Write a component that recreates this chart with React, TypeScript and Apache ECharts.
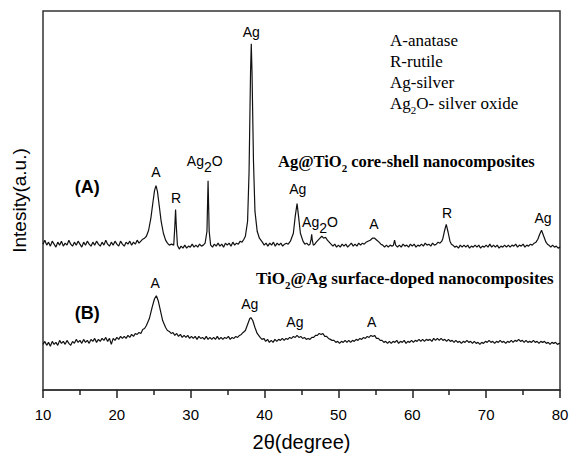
import React, { useEffect, useRef } from "react";
import * as echarts from "echarts";

// 2θ (degree), intensity (arbitrary units) — pattern (A), Ag@TiO2 core-shell
const curveA: [number, number][] = [
  [10, 147], [10.25, 151], [10.5, 146], [10.75, 149], [11, 145], [11.25, 150], [11.5, 147], [11.75, 144], [12, 149], [12.25, 146],
  [12.5, 150], [12.75, 145], [13, 148], [13.25, 146], [13.5, 151], [13.75, 147], [14, 145], [14.25, 149], [14.5, 146], [14.75, 150],
  [15, 147], [15.25, 144], [15.5, 149], [15.75, 146], [16, 150], [16.25, 147], [16.5, 145], [16.75, 149], [17, 146], [17.25, 150],
  [17.5, 147], [17.75, 145], [18, 149], [18.25, 146], [18.5, 151], [18.75, 147], [19, 145], [19.25, 149], [19.5, 146], [19.75, 150],
  [20, 147], [20.25, 145], [20.5, 150], [20.75, 147], [21, 145], [21.25, 149], [21.5, 147], [21.75, 150], [22, 146], [22.25, 149],
  [22.5, 147], [22.75, 151], [23, 148], [23.25, 150], [23.5, 152], [23.75, 153], [24, 155], [24.3, 161], [24.6, 173], [24.9, 190],
  [25.1, 201], [25.3, 206], [25.5, 200], [25.7, 188], [26.0, 170], [26.3, 158], [26.6, 151], [26.85, 148], [27.1, 146], [27.4, 147],
  [27.7, 146], [27.85, 165], [27.95, 182], [28.05, 165], [28.2, 146], [28.45, 142], [28.7, 145], [28.95, 143], [29.2, 146], [29.45, 143],
  [29.7, 145], [29.95, 144], [30.2, 147], [30.45, 144], [30.7, 146], [30.95, 144], [31.2, 147], [31.45, 145], [31.7, 146], [31.95, 148],
  [32.2, 160], [32.35, 211], [32.5, 160], [32.7, 146], [32.95, 144], [33.2, 147], [33.45, 145], [33.7, 148], [33.95, 145], [34.2, 147],
  [34.45, 144], [34.7, 148], [34.95, 146], [35.2, 148], [35.45, 145], [35.7, 149], [35.95, 146], [36.2, 148], [36.45, 147], [36.7, 150],
  [36.95, 149], [37.2, 152], [37.4, 155], [37.7, 170], [37.9, 220], [38.1, 320], [38.2, 349], [38.3, 320], [38.5, 230], [38.7, 180],
  [39, 160], [39.3, 153], [39.7, 149], [39.95, 146], [40.2, 148], [40.45, 145], [40.7, 148], [40.95, 146], [41.2, 149], [41.45, 145],
  [41.7, 148], [41.95, 146], [42.2, 148], [42.45, 145], [42.7, 147], [42.95, 148], [43.2, 147], [43.5, 150], [43.9, 158], [44.15, 175],
  [44.4, 188], [44.6, 175], [44.85, 158], [45.2, 150], [45.45, 147], [45.7, 148], [45.95, 146], [46.15, 147], [46.3, 152], [46.38, 157],
  [46.46, 151], [46.6, 146], [46.8, 147], [47.0, 149], [47.25, 151], [47.5, 153], [47.75, 155], [48.0, 153], [48.25, 154], [48.5, 151],
  [48.75, 149], [49, 147], [49.25, 145], [49.5, 147], [49.75, 144], [50, 146], [50.25, 144], [50.5, 147], [50.75, 145], [51, 147],
  [51.25, 144], [51.5, 146], [51.75, 148], [52, 145], [52.25, 147], [52.5, 145], [52.75, 148], [53, 146], [53.25, 148], [53.5, 147],
  [53.75, 149], [54, 150], [54.3, 151], [54.6, 153], [54.9, 153], [55.2, 151], [55.5, 149], [55.75, 147], [56, 146], [56.25, 144],
  [56.5, 146], [56.75, 144], [57, 146], [57.25, 145], [57.45, 146], [57.6, 151], [57.75, 146], [58, 144], [58.25, 146], [58.5, 144],
  [58.75, 147], [59, 145], [59.25, 146], [59.5, 144], [59.75, 147], [60, 145], [60.25, 147], [60.5, 144], [60.75, 146], [61, 145],
  [61.25, 147], [61.5, 145], [61.75, 148], [62, 146], [62.25, 147], [62.5, 145], [62.75, 148], [63, 146], [63.25, 147], [63.5, 149],
  [63.75, 148], [64, 150], [64.15, 153], [64.35, 160], [64.6, 167], [64.85, 159], [65.1, 150], [65.3, 147], [65.5, 146], [65.75, 144],
  [66, 145], [66.25, 143], [66.5, 146], [66.75, 144], [67, 146], [67.25, 144], [67.5, 146], [67.75, 143], [68, 145], [68.25, 144],
  [68.5, 146], [68.75, 144], [69, 146], [69.25, 143], [69.5, 145], [69.75, 144], [70, 146], [70.25, 144], [70.5, 147], [70.75, 144],
  [71, 146], [71.25, 144], [71.5, 146], [71.75, 143], [72, 145], [72.25, 144], [72.5, 146], [72.75, 144], [73, 146], [73.25, 144],
  [73.5, 146], [73.75, 145], [74, 147], [74.25, 144], [74.5, 146], [74.75, 145], [75, 147], [75.25, 144], [75.5, 146], [75.75, 145],
  [76, 147], [76.25, 146], [76.5, 148], [76.75, 149], [77, 152], [77.25, 157], [77.5, 161], [77.8, 155], [78.1, 149], [78.3, 147],
  [78.5, 146], [78.75, 144], [79, 146], [79.25, 144], [79.5, 145], [79.75, 143], [80, 144],
];

// pattern (B), TiO2@Ag surface-doped
const curveB: [number, number][] = [
  [10, 46], [10.25, 49], [10.5, 45], [10.75, 48], [11, 44], [11.25, 49], [11.5, 46], [11.75, 48], [12, 45], [12.25, 50],
  [12.5, 47], [12.75, 49], [13, 46], [13.25, 50], [13.5, 47], [13.75, 45], [14, 49], [14.25, 47], [14.5, 51], [14.75, 48],
  [15, 50], [15.25, 47], [15.5, 51], [15.75, 48], [16, 50], [16.25, 47], [16.5, 51], [16.75, 49], [17, 52], [17.25, 48],
  [17.5, 51], [17.75, 49], [18, 52], [18.25, 50], [18.5, 53], [18.75, 49], [19, 52], [19.25, 46], [19.5, 52], [19.75, 50],
  [20, 53], [20.25, 51], [20.5, 54], [20.75, 52], [21, 54], [21.25, 52], [21.5, 55], [21.75, 53], [22, 56], [22.25, 54],
  [22.5, 57], [22.75, 56], [23, 58], [23.25, 57], [23.5, 61], [23.75, 62], [24, 65], [24.4, 72], [24.8, 84], [25.1, 92],
  [25.35, 95], [25.6, 90], [25.9, 80], [26.2, 70], [26.6, 63], [26.85, 60], [27.1, 59], [27.35, 57], [27.6, 58], [27.85, 55],
  [28.1, 57], [28.35, 54], [28.6, 56], [28.85, 53], [29.1, 55], [29.35, 53], [29.6, 55], [29.85, 52], [30.1, 54], [30.35, 52],
  [30.6, 54], [30.85, 51], [31.1, 54], [31.35, 52], [31.6, 53], [31.85, 51], [32.1, 54], [32.35, 51], [32.6, 53], [32.85, 51],
  [33.1, 53], [33.35, 51], [33.6, 54], [33.85, 51], [34.1, 53], [34.35, 51], [34.6, 53], [34.85, 52], [35.1, 54], [35.35, 51],
  [35.6, 53], [35.85, 52], [36.1, 54], [36.35, 53], [36.6, 55], [36.85, 56], [37.1, 58], [37.4, 60], [37.7, 66], [38.0, 72],
  [38.15, 73], [38.4, 70], [38.7, 63], [39, 57], [39.4, 53], [39.65, 51], [39.9, 52], [40.15, 49], [40.4, 51], [40.65, 48],
  [40.9, 50], [41.15, 48], [41.4, 51], [41.65, 49], [41.9, 51], [42.15, 50], [42.4, 52], [42.65, 50], [42.9, 52], [43.15, 51],
  [43.4, 53], [43.65, 52], [43.9, 54], [44.15, 53], [44.4, 55], [44.65, 53], [44.9, 54], [45.15, 52], [45.4, 53], [45.65, 51],
  [45.9, 52], [46.15, 51], [46.4, 53], [46.65, 53], [46.9, 55], [47.15, 55], [47.4, 57], [47.65, 56], [47.9, 57], [48.15, 54],
  [48.4, 54], [48.65, 52], [48.9, 51], [49.15, 50], [49.4, 50], [49.65, 48], [49.9, 49], [50.15, 47], [50.4, 49], [50.65, 48],
  [50.9, 50], [51.15, 48], [51.4, 50], [51.65, 48], [51.9, 50], [52.15, 49], [52.4, 51], [52.65, 50], [52.9, 52], [53.15, 51],
  [53.4, 53], [53.65, 52], [53.9, 54], [54.15, 53], [54.4, 55], [54.65, 54], [54.9, 55], [55.15, 52], [55.4, 52], [55.65, 50],
  [55.9, 50], [56.15, 48], [56.4, 49], [56.65, 47], [56.9, 49], [57.15, 47], [57.4, 49], [57.65, 48], [57.9, 50], [58.15, 47],
  [58.4, 49], [58.65, 48], [58.9, 50], [59.15, 47], [59.4, 49], [59.65, 48], [59.9, 50], [60.15, 48], [60.4, 50], [60.65, 49],
  [60.9, 51], [61.15, 49], [61.4, 51], [61.65, 49], [61.9, 51], [62.15, 50], [62.4, 51], [62.65, 49], [62.9, 52], [63.15, 50],
  [63.4, 52], [63.65, 50], [63.9, 52], [64.15, 50], [64.4, 51], [64.65, 49], [64.9, 51], [65.15, 49], [65.4, 50], [65.65, 48],
  [65.9, 50], [66.15, 48], [66.4, 49], [66.65, 47], [66.9, 49], [67.15, 48], [67.4, 50], [67.65, 48], [67.9, 49], [68.15, 47],
  [68.4, 49], [68.65, 47], [68.9, 48], [69.15, 46], [69.4, 48], [69.65, 47], [69.9, 49], [70.15, 48], [70.4, 50], [70.65, 48],
  [70.9, 49], [71.15, 47], [71.4, 49], [71.65, 48], [71.9, 50], [72.15, 48], [72.4, 49], [72.65, 47], [72.9, 49], [73.15, 48],
  [73.4, 50], [73.65, 48], [73.9, 50], [74.15, 49], [74.4, 51], [74.65, 49], [74.9, 50], [75.15, 48], [75.4, 50], [75.65, 48],
  [75.9, 49], [76.15, 48], [76.4, 50], [76.65, 48], [76.9, 49], [77.15, 47], [77.4, 49], [77.65, 48], [77.9, 49], [78.15, 47],
  [78.4, 48], [78.65, 46], [78.9, 48], [79.15, 47], [79.4, 48], [79.65, 46], [79.9, 47], [80, 47],
];

// peak labels [2θ, intensity, text]
const peakLabelsA: [number, number, string][] = [
  [25.3, 217, "A"], [28.0, 190, "R"], [31.9, 228, "Ag2O"], [38.2, 358, "Ag"], [44.5, 200, "Ag"],
  [47.5, 166, "Ag2O"], [54.8, 164, "A"], [64.7, 175, "R"], [77.7, 170, "Ag"],
];
const peakLabelsB: [number, number, string][] = [
  [25.2, 105, "A"], [38.0, 84, "Ag"], [44.1, 66, "Ag"], [54.5, 66, "A"],
];
const patternTags: [number, number, string][] = [
  [16.0, 205, "(A)"], [16.0, 78, "(B)"],
];

const xTicks = [10, 20, 30, 40, 50, 60, 70, 80];
const legendLines = ["A-anatase", "R-rutile", "Ag-silver", "Ag2O- silver oxide"];

const SANS = "'Liberation Sans', Arial, sans-serif";
const SERIF = "'Liberation Serif', 'Times New Roman', serif";

export default function App() {
  const ref = useRef<HTMLDivElement>(null);
  useEffect(() => {
    if (!ref.current) return;
    const chart = echarts.init(ref.current, undefined, { renderer: "svg" });
    const peakRich = {
      n: { fontSize: 14, fontFamily: SANS, color: "#000", lineHeight: 20, verticalAlign: "top" },
      s: { fontSize: 14, fontFamily: SANS, color: "#000", lineHeight: 12, verticalAlign: "bottom" },
    };
    const fmt = (p: any) => {
      const t = p.data[2] as string;
      if (t === "Ag2O") return "{n|Ag}{s|2}{n|O}";
      return "{n|" + t + "}";
    };
    const labelSeries = (data: [number, number, string][]) => ({
      type: "scatter",
      data,
      symbolSize: 0,
      silent: true,
      itemStyle: { opacity: 1 },
      label: { show: true, position: "inside", color: "#000", formatter: fmt, rich: peakRich },
    });
    const serifRich = {
      n: { fontSize: 17, fontFamily: SERIF, fill: "#000", lineHeight: 20, verticalAlign: "top" },
      s: { fontSize: 11, fontFamily: SERIF, fill: "#000", lineHeight: 8, verticalAlign: "bottom" },
      b: { fontSize: 16.5, fontFamily: SERIF, fontWeight: "bold", fill: "#000", lineHeight: 20, verticalAlign: "top" },
      bs: { fontSize: 11, fontFamily: SERIF, fontWeight: "bold", fill: "#000", lineHeight: 8, verticalAlign: "bottom" },
      c: { fontSize: 17, fontFamily: SERIF, fontWeight: "bold", fill: "#000", lineHeight: 20, verticalAlign: "top" },
    };
    chart.setOption({
      animation: false,
      backgroundColor: "#fff",
      grid: { left: 43, right: 13, top: 11, bottom: 64, show: true, borderColor: "#333", borderWidth: 1.5 },
      xAxis: {
        type: "value",
        min: 10,
        max: 80,
        interval: 10,
        name: "2θ(degree)",
        nameLocation: "middle",
        nameGap: 42,
        nameTextStyle: { fontSize: 20, fontFamily: SANS, color: "#000" },
        axisLine: { show: true, lineStyle: { color: "#333", width: 1.5 } },
        axisTick: { show: true, inside: false, length: 8, lineStyle: { color: "#222", width: 1.5 } },
        minorTick: { show: true, splitNumber: 2, length: 5, lineStyle: { color: "#222", width: 1.5 } },
        splitLine: { show: false },
        minorSplitLine: { show: false },
        axisLabel: {
          fontSize: 15,
          fontFamily: SANS,
          color: "#000",
          margin: 17,
          formatter: (v: number) => (xTicks.includes(v) ? String(v) : ""),
        },
      },
      yAxis: {
        type: "value",
        min: 0,
        max: 382,
        name: "Intesity(a.u.)",
        nameLocation: "middle",
        nameGap: 14,
        nameTextStyle: { fontSize: 19, fontFamily: SANS, color: "#000" },
        axisLine: { show: false },
        axisTick: { show: false },
        axisLabel: { show: false },
        splitLine: { show: false },
      },
      series: [
        { type: "line", data: curveA, showSymbol: false, lineStyle: { color: "#111", width: 1.2 }, silent: true },
        { type: "line", data: curveB, showSymbol: false, lineStyle: { color: "#111", width: 1.2 }, silent: true },
        labelSeries(peakLabelsA),
        labelSeries(peakLabelsB),
        {
          type: "scatter",
          data: patternTags,
          symbolSize: 0,
          silent: true,
          itemStyle: { opacity: 1 },
          label: {
            show: true,
            position: "inside",
            formatter: (p: any) => p.data[2],
            fontSize: 18,
            fontWeight: "bold",
            fontFamily: SANS,
            color: "#000",
          },
        },
      ],
      graphic: [
        ...legendLines.map((t, i) => ({
          type: "text",
          left: 390,
          top: 32 + i * 21,
          style: {
            text: t === "Ag2O- silver oxide" ? "{n|Ag}{s|2}{n|O- silver oxide}" : "{n|" + t + "}",
            rich: serifRich,
          },
        })),
        {
          type: "text",
          left: 278,
          top: 153,
          style: { text: "{b|Ag@TiO}{bs|2}{b| core-shell nanocomposites}", rich: serifRich },
        },
        {
          type: "text",
          left: 256,
          top: 270,
          style: { text: "{c|TiO}{bs|2}{c|@Ag surface-doped nanocomposites}", rich: serifRich },
        },
      ],
    });
    return () => chart.dispose();
  }, []);
  return (
    <div
      ref={ref}
      style={{ position: "absolute", left: 0, top: 0, width: 573, height: 457, background: "#fff" }}
    />
  );
}
